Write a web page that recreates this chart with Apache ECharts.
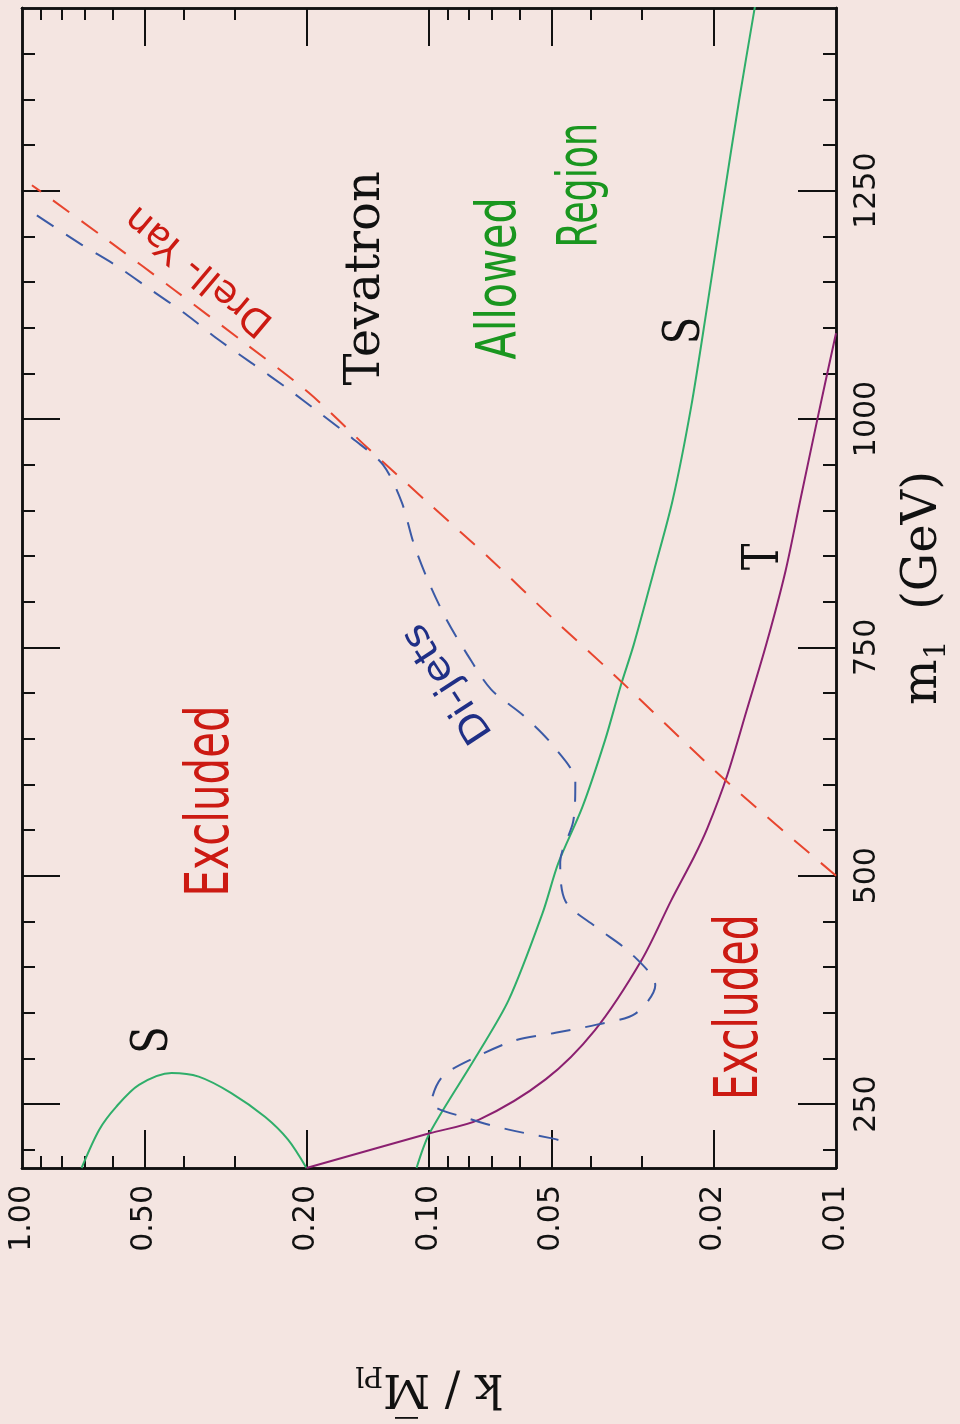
<!DOCTYPE html>
<html>
<head>
<meta charset="utf-8">
<title>Tevatron bounds on k / M_Pl versus m_1</title>
<script src="https://cdn.jsdelivr.net/npm/echarts@6/dist/echarts.min.js"></script>
<style>
  html, body { margin: 0; padding: 0; background: #f4e5e1; }
  #chart { width: 960px; height: 1424px; }
</style>
</head>
<body>
<div id="chart"></div>
<script>
// ---- axis ticks -------------------------------------------------------
const kTickLabels = [1, 0.5, 0.2, 0.1, 0.05, 0.02, 0.01];
const kMajorTicks = [0.5, 0.2, 0.1, 0.05, 0.02];
const kMinorTicks = [0.9, 0.8, 0.7, 0.6, 0.4, 0.3, 0.09, 0.08, 0.07, 0.06, 0.04, 0.03];
const mMajorTicks = [250, 500, 750, 1000, 1250];
const mMinorTicks = [200, 300, 350, 400, 450, 550, 600, 650, 700, 800, 850, 900, 950,
                     1050, 1100, 1150, 1200, 1300, 1350, 1400];

// ---- bounds: k / M_Pl values and the matching m_1 (GeV) -----------------
// S parameter, low-mass lobe
const sLobeK = [0.714, 0.646, 0.587, 0.516, 0.429, 0.368, 0.306, 0.253, 0.222, 0.2];
const sLobeM = [180, 222, 247, 271, 284, 280, 262, 236, 211, 180];

// S parameter, main bound
const sMainK = [0.1073, 0.0997, 0.0766, 0.0637, 0.0526, 0.0481, 0.0420, 0.0369, 0.0338,
                0.0314, 0.0280, 0.0252, 0.0227, 0.0207, 0.0189, 0.0173, 0.0158];
const sMainM = [180, 218, 302, 364, 459, 514, 575, 649, 708,
                753, 834, 911, 1013, 1125, 1240, 1349, 1453];

// T parameter
const tK = [0.2, 0.0997, 0.0753, 0.0517, 0.0391, 0.0300, 0.0254, 0.0223, 0.0207,
            0.0185, 0.0166, 0.0148, 0.0133, 0.01224, 0.01106, 0.01];
const tM = [180, 218, 233, 277, 331, 408, 473, 521, 552,
            610, 680, 755, 834, 911, 1004, 1094];

// Drell-Yan search
const dyK = [0.01, 0.01875, 0.0353, 0.0500, 0.0704, 0.0992, 0.1412, 0.1977, 0.2911,
             0.4215, 0.6172, 0.8990, 0.9454];
const dyM = [500, 605, 721, 783, 846, 906, 968, 1029, 1087, 1141, 1196, 1249, 1256];

// di-jet search
const djK = [0.9194, 0.7143, 0.5869, 0.4877, 0.3963, 0.3294, 0.2721, 0.2237, 0.1848,
             0.1544, 0.1298, 0.1167, 0.1091, 0.1003, 0.0907, 0.0810, 0.0704, 0.0585,
             0.0497, 0.0437, 0.0442, 0.0476, 0.0462, 0.0389, 0.0319, 0.0278, 0.0311,
             0.0387, 0.0489, 0.0612, 0.0762, 0.0927, 0.0986, 0.0797, 0.0637, 0.0506, 0.0473];
const djM = [1223, 1191, 1168, 1143, 1115, 1087, 1061, 1034, 1006,
             979, 950, 909, 864, 822, 781, 744, 704, 675,
             643, 603, 560, 515, 472, 444, 415, 380, 349,
             337, 328, 320, 302, 280, 252, 234, 222, 213, 210];

// ---- helpers ------------------------------------------------------------
const zip = (ks, ms) => ks.map((k, i) => [k, ms[i]]);
const INK = '#111111';

function kAxis(position, ticks, len, main) {
  return {
    type: 'log', logBase: 10, min: 0.01, max: 1, inverse: true, position: position,
    axisLine: { show: true, onZero: false, lineStyle: { color: INK, width: 2.5 } },
    axisTick: { show: true, inside: true, length: len, customValues: ticks,
                lineStyle: { color: INK, width: 2 } },
    axisLabel: main ? {
      show: true, customValues: kTickLabels, rotate: 90, margin: 17,
      showMinLabel: true, showMaxLabel: true,
      fontSize: 30, fontFamily: 'DejaVu Sans', color: INK,
      formatter: v => Number(v).toFixed(2)
    } : { show: false },
    splitLine: { show: false },
    name: main ? '{a|k / M\u0305}{b|Pl}' : '',
    nameLocation: 'middle', nameRotate: 180, nameGap: 192,
    nameTextStyle: {
      rich: {
        a: { fontSize: 46, fontFamily: 'DejaVu Serif', color: INK, lineHeight: 54 },
        b: { fontSize: 28, fontFamily: 'DejaVu Serif', color: INK, verticalAlign: 'bottom', lineHeight: 54 }
      }
    }
  };
}

function mAxis(position, ticks, len, main) {
  return {
    type: 'value', min: 180, max: 1450, position: position,
    axisLine: { show: true, onZero: false, lineStyle: { color: INK, width: 2.5 } },
    axisTick: { show: true, inside: true, length: len, customValues: ticks,
                lineStyle: { color: INK, width: 2 } },
    axisLabel: main ? {
      show: true, customValues: mMajorTicks, rotate: 90, margin: 16,
      fontSize: 30, fontFamily: 'DejaVu Sans', color: INK,
      formatter: v => String(Math.round(v))
    } : { show: false },
    splitLine: { show: false },
    name: main ? '{a|m}{b|1}{a|  (GeV)}' : '',
    nameLocation: 'middle', nameRotate: 90, nameGap: 60,
    nameTextStyle: {
      rich: {
        a: { fontSize: 48, fontFamily: 'DejaVu Serif', color: INK, lineHeight: 56 },
        b: { fontSize: 30, fontFamily: 'DejaVu Serif', color: INK, verticalAlign: 'bottom', lineHeight: 56 }
      }
    }
  };
}

function curve(name, ks, ms, color, dashed) {
  return {
    name: name, type: 'line', xAxisIndex: 0, yAxisIndex: 0,
    data: zip(ks, ms), smooth: 0.3,
    showSymbol: false, symbol: 'none', clip: true, silent: true,
    lineStyle: { color: color, width: 2, type: dashed ? [20, 15] : 'solid' }
  };
}

// ---- chart --------------------------------------------------------------
const chart = echarts.init(document.getElementById('chart'), null, { renderer: 'canvas' });

chart.setOption({
  backgroundColor: '#f4e5e1',
  animation: false,
  grid: { left: 22, right: 117, top: 8, bottom: 256, containLabel: false },
  xAxis: [
    kAxis('bottom', kMajorTicks, 38, true),
    kAxis('bottom', kMinorTicks, 12, false),
    kAxis('top', kMajorTicks, 38, false),
    kAxis('top', kMinorTicks, 12, false)
  ],
  yAxis: [
    mAxis('right', mMajorTicks, 38, true),
    mAxis('right', mMinorTicks, 13, false),
    mAxis('left', mMajorTicks, 38, false),
    mAxis('left', mMinorTicks, 13, false)
  ],
  series: [
    curve('S (low mass)', sLobeK, sLobeM, '#2fae6a', false),
    curve('S', sMainK, sMainM, '#2fae6a', false),
    curve('T', tK, tM, '#8b2070', false),
    curve('Drell-Yan', dyK, dyM, '#e8452e', true),
    curve('Di-jets', djK, djM, '#3b5aa6', true)
  ]
});

// ---- text annotations, anchored in data space ------------------------------
const notes = [
  { text: 'Tevatron',   at: [0.1420, 1154], angle: 90,  font: '48px "DejaVu Serif"', color: '#111111', sx: 1 },
  { text: 'Allowed',    at: [0.0666, 1154], angle: 90,  font: '56px "DejaVu Sans"',  color: '#1a961f', sx: 0.74 },
  { text: 'Region',     at: [0.0423, 1256], angle: 90,  font: '56px "DejaVu Sans"',  color: '#1a961f', sx: 0.65 },
  { text: 'Excluded',   at: [0.3404, 582],  angle: 90,  font: '60px "DejaVu Sans"',  color: '#cc1a12', sx: 0.7 },
  { text: 'Excluded',   at: [0.01703, 356], angle: 90,  font: '60px "DejaVu Sans"',  color: '#cc1a12', sx: 0.68 },
  { text: 'S',          at: [0.02332, 1097], angle: 90, font: '50px "DejaVu Serif"', color: '#111111', sx: 0.8 },
  { text: 'T',          at: [0.01497, 849], angle: 90,  font: '50px "DejaVu Serif"', color: '#111111', sx: 0.8 },
  { text: 'S',          at: [0.4742, 320],  angle: 90,  font: '50px "DejaVu Serif"', color: '#111111', sx: 0.8 },
  { text: 'Drell- Yan', at: [0.3664, 1163], angle: 140, font: '38px "DejaVu Sans"',  color: '#cc1a12', sx: 1 },
  { text: 'Di-jets',    at: [0.0897, 711],  angle: 123, font: '38px "DejaVu Sans"',  color: '#1f2f86', sx: 1.1 }
];

function placeNotes() {
  const elements = notes.map(n => {
    const p = chart.convertToPixel({ xAxisIndex: 0, yAxisIndex: 0 }, n.at);
    return {
      type: 'text', x: p[0], y: p[1], rotation: n.angle * Math.PI / 180,
      scaleX: n.sx, scaleY: 1, silent: true, z: 20,
      style: {
        text: n.text, font: n.font, fill: n.color,
        align: 'center', verticalAlign: 'middle',
        textAlign: 'center', textVerticalAlign: 'middle'
      }
    };
  });
  chart.setOption({ graphic: { elements: elements } });
}
placeNotes();
</script>
</body>
</html>
